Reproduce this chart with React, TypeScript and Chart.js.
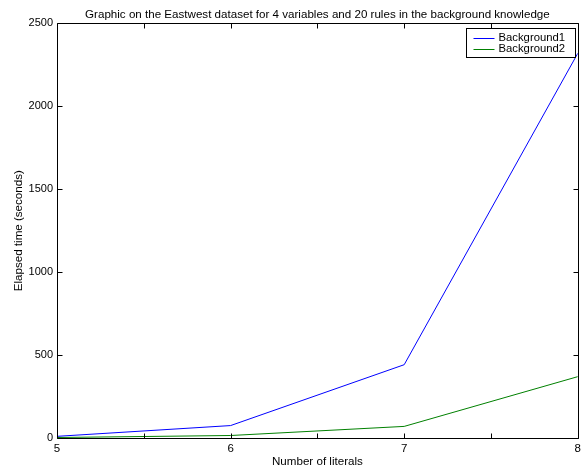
import React, { useEffect, useRef } from "react";
import { Chart, registerables } from "chart.js";

Chart.register(...registerables);

const literals = [5, 6, 7, 8];
const background1 = [10, 75, 442, 2320];
const background2 = [3, 15, 70, 370];
const seriesNames = ["Background1", "Background2"];
const seriesColors = ["#0000ff", "#008000"];
const xTicks = [5, 5.5, 6, 6.5, 7, 7.5, 8];
const yTicks = [0, 500, 1000, 1500, 2000, 2500];
const titleText = "Graphic on the Eastwest dataset for 4 variables and 20 rules in the background knowledge";
const xTitle = "Number of literals";
const yTitle = "Elapsed time (seconds)";

const FONT = "'Liberation Sans', Arial, Helvetica, sans-serif";

const framePlugin = {
  id: "frame",
  afterDraw(chart: any) {
    const { ctx, chartArea } = chart;
    const { left, right, top, bottom } = chartArea;
    const xs = chart.scales.x;
    const ys = chart.scales.y;
    ctx.save();
    ctx.strokeStyle = "#000";
    ctx.lineWidth = 1;
    const L = Math.round(left) + 0.5;
    const R = Math.round(right) + 0.5;
    const T = Math.round(top) + 0.5;
    const B = Math.round(bottom) + 0.5;
    ctx.beginPath();
    ctx.rect(L, T, R - L, B - T);
    ctx.stroke();
    const tl = 5;
    ctx.beginPath();
    xTicks.forEach((v) => {
      const px = Math.round(xs.getPixelForValue(v)) + 0.5;
      ctx.moveTo(px, B);
      ctx.lineTo(px, B - tl);
      ctx.moveTo(px, T);
      ctx.lineTo(px, T + tl);
    });
    yTicks.forEach((v) => {
      const py = Math.round(ys.getPixelForValue(v)) + 0.5;
      ctx.moveTo(L, py);
      ctx.lineTo(L + tl, py);
      ctx.moveTo(R, py);
      ctx.lineTo(R - tl, py);
    });
    ctx.stroke();

    // legend
    const bx = 466.5, by = T + 5, bw = 109, bh = 29;
    ctx.fillStyle = "#fff";
    ctx.fillRect(bx, by, bw, bh);
    ctx.strokeStyle = "#000";
    ctx.strokeRect(bx, by, bw, bh);
    ctx.font = `11.3px ${FONT}`;
    ctx.textBaseline = "middle";
    ctx.textAlign = "left";
    seriesNames.forEach((name, i) => {
      const cy = by + 9 + i * 11.5;
      ctx.strokeStyle = seriesColors[i];
      ctx.beginPath();
      ctx.moveTo(bx + 7, Math.round(cy) + 0.5);
      ctx.lineTo(bx + 28, Math.round(cy) + 0.5);
      ctx.stroke();
      ctx.fillStyle = "#000";
      ctx.fillText(name, bx + 32, cy);
    });
    ctx.restore();
  },
};

export default function App() {
  const ref = useRef<HTMLCanvasElement | null>(null);
  useEffect(() => {
    document.body.style.margin = "0";
    const canvas = ref.current!;
    const chart = new Chart(canvas, {
      type: "line",
      data: {
        datasets: [background1, background2].map((vals, i) => ({
          label: seriesNames[i],
          data: literals.map((x, j) => ({ x, y: vals[j] })),
          borderColor: seriesColors[i],
          backgroundColor: seriesColors[i],
          borderWidth: 1,
          pointRadius: 0,
          tension: 0,
          fill: false,
        })),
      },
      options: {
        animation: false,
        responsive: false,
        maintainAspectRatio: false,
        layout: { padding: { left: 0, right: 6, top: 0, bottom: 0 } },
        plugins: {
          legend: { display: false },
          tooltip: { enabled: false },
          title: {
            display: true,
            fullSize: false,
            text: titleText,
            color: "#000",
            font: { family: FONT, size: 11.6, weight: "normal" },
            padding: { top: 8, bottom: 1.5 },
          },
        },
        scales: {
          x: {
            type: "linear",
            min: 5,
            max: 8,
            afterFit: (s: any) => { s.height = 33; },
            afterBuildTicks: (s: any) => { s.ticks = xTicks.map((v) => ({ value: v })); },
            grid: { display: false, drawTicks: false },
            border: { display: false },
            ticks: {
              padding: 4,
              color: "#000",
              maxRotation: 0,
              autoSkip: false,
              font: { family: FONT, size: 11.5 },
              callback: (v: any) => (Number.isInteger(v) ? String(v) : ""),
            },
            title: {
              display: true,
              text: xTitle,
              color: "#000",
              font: { family: FONT, size: 11.6 },
              padding: { top: 0, bottom: 2.4 },
            },
          },
          y: {
            type: "linear",
            min: 0,
            max: 2500,
            afterFit: (s: any) => { s.width = 57; },
            afterBuildTicks: (s: any) => { s.ticks = yTicks.map((v) => ({ value: v })); },
            grid: { display: false, drawTicks: false },
            border: { display: false },
            ticks: {
              padding: 4,
              color: "#000",
              font: { family: FONT, size: 11 },
              callback: (v: any) => String(v),
            },
            title: {
              display: true,
              text: yTitle,
              color: "#000",
              font: { family: FONT, size: 11.6 },
              padding: { top: 12, bottom: 0 },
            },
          },
        },
      },
      plugins: [framePlugin],
    });
    return () => chart.destroy();
  }, []);
  return <canvas ref={ref} width={585} height={471} style={{ display: "block" }} />;
}
